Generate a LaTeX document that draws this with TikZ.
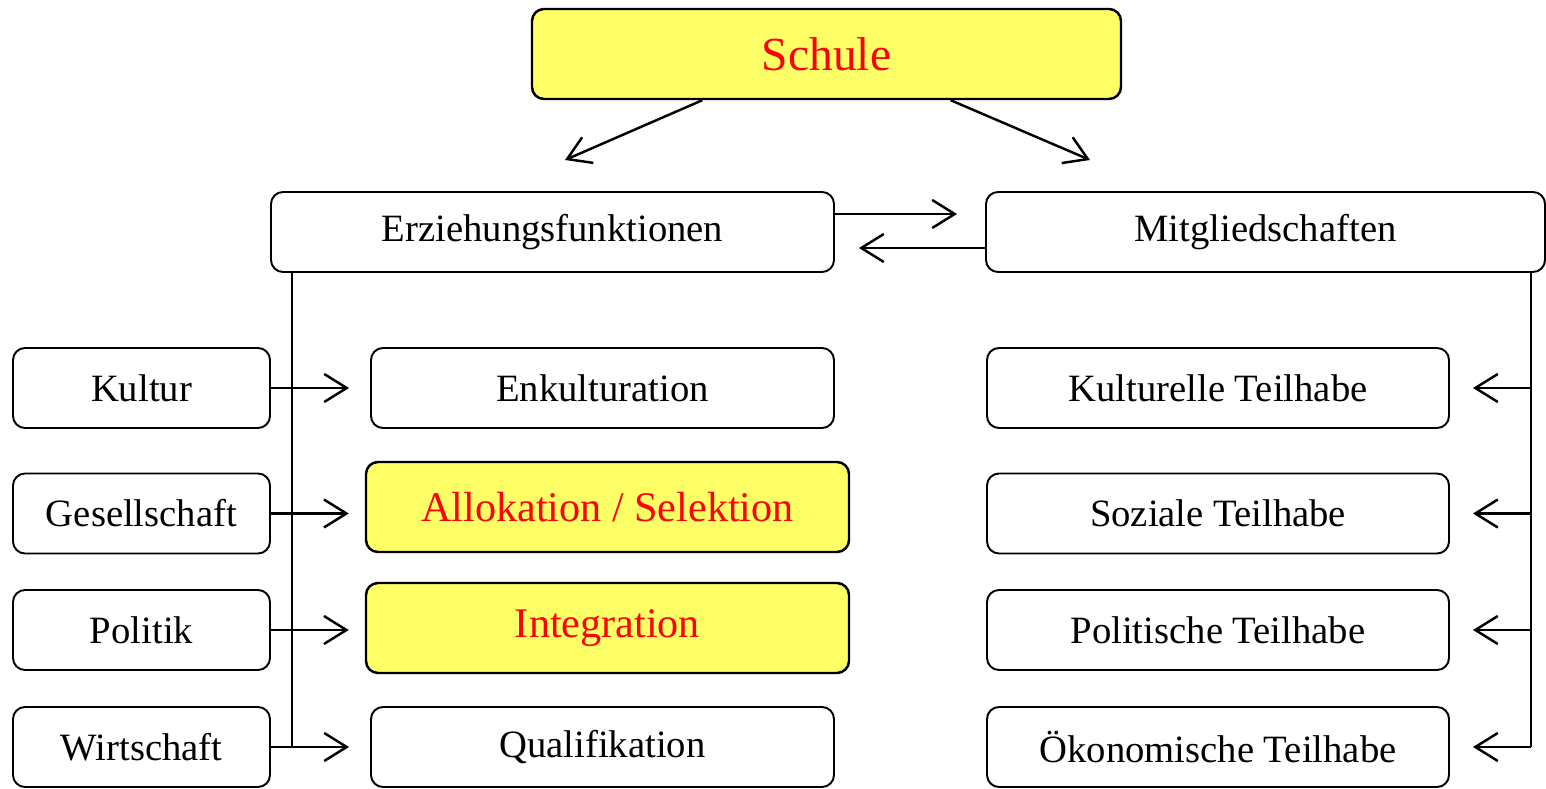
\documentclass[tikz,border=0pt]{standalone}
\usepackage{fontspec}
\setmainfont{Liberation Serif}
\usetikzlibrary{arrows.meta,calc}

\begin{document}
\begin{tikzpicture}
  % Define box sizes
  \def\smallw{5.14}
  \def\midw{9.26}
  \def\rightw{9.24}

  % Highlight colours
  \definecolor{boxyellow}{RGB}{255,255,102}
  \definecolor{boxred}{RGB}{255,0,0}

  \tikzset{
    plainbox/.style={draw, line width=1.1pt, rounded corners=0.24cm, minimum height=1.6cm,
      inner sep=0pt, font=\fontsize{22}{26}\selectfont},
    hotbox/.style={plainbox, fill=boxyellow, text=boxred, line width=1.4pt,
      minimum height=1.8cm, font=\fontsize{24}{28}\selectfont},
    arr/.style={-{Straight Barb[length=4.5mm,width=5.6mm]}, line width=1.4pt},
    spine/.style={line width=1.4pt}
  }

  \useasboundingbox (0,0) rectangle (30.92,15.76);

  % Top level
  \node[hotbox, minimum width=11.78cm, font=\fontsize{27}{32}\selectfont] (schule) at (16.53,14.68) {Schule};
  \node[plainbox, minimum width=11.26cm] (erz) at (11.05,11.12) {Erziehungsfunktionen};
  \node[plainbox, minimum width=11.18cm] (mitg) at (25.31,11.12) {Mitgliedschaften};

  % Left column
  \node[plainbox, minimum width=\smallw cm] (kultur) at (2.83,8.0) {Kultur};
  \node[plainbox, minimum width=\smallw cm] (ges) at (2.83,5.49) {Gesellschaft};
  \node[plainbox, minimum width=\smallw cm] (pol) at (2.83,3.16) {Politik};
  \node[plainbox, minimum width=\smallw cm] (wirt) at (2.83,0.82) {Wirtschaft};

  % Middle column
  \node[plainbox, minimum width=\midw cm] (enk) at (12.05,8.0) {Enkulturation};
  \node[hotbox, minimum width=9.66cm] (allok) at (12.15,5.62) {Allokation / Selektion};
  \node[hotbox, minimum width=9.66cm] (integ) at (12.15,3.2) {Integration};
  \node[plainbox, minimum width=\midw cm] (quali) at (12.05,0.82) {Qualifikation};

  % Right column
  \node[plainbox, minimum width=\rightw cm] (kteil) at (24.36,8.0) {Kulturelle Teilhabe};
  \node[plainbox, minimum width=\rightw cm] (steil) at (24.36,5.49) {Soziale Teilhabe};
  \node[plainbox, minimum width=\rightw cm] (pteil) at (24.36,3.16) {Politische Teilhabe};
  \node[plainbox, minimum width=\rightw cm] (oteil) at (24.36,0.82) {Ökonomische Teilhabe};

  % Schule splits in two
  \coordinate (erzTop) at (11.3,12.56);
  \coordinate (mitgTop) at (21.8,12.56);
  \draw[arr] ($(schule.south west)!0.29!(schule.south east)$) -- (erzTop);
  \draw[arr] ($(schule.south west)!0.71!(schule.south east)$) -- (mitgTop);

  % Exchange between the two
  \draw[arr] ([yshift=3.6mm]erz.east) -- ([yshift=3.6mm,xshift=-5.6mm]mitg.west);
  \draw[arr] ([yshift=-3.2mm]mitg.west) -- ([yshift=-3.2mm,xshift=4.8mm]erz.east);

  % Left spine
  \coordinate (spineL) at ([xshift=4.4mm]erz.south west);
  \draw[spine] (spineL) -- (spineL |- wirt.east);
  \foreach \src/\dst/\gap in {kultur/enk/4.2mm, ges/allok/3.2mm, pol/integ/3.2mm, wirt/quali/4.2mm}
    \draw[arr, shorten >=\gap] (\src.east) -- (\src.east -| \dst.west);

  % Right spine
  \coordinate (spineR) at ([xshift=-3mm]mitg.south east);
  \draw[spine] (spineR) -- (spineR |- oteil.east);
  \foreach \dst in {kteil, steil, pteil, oteil}
    \draw[arr, shorten >=4.6mm] (spineR |- \dst.east) -- (\dst.east);
\end{tikzpicture}
\end{document}
